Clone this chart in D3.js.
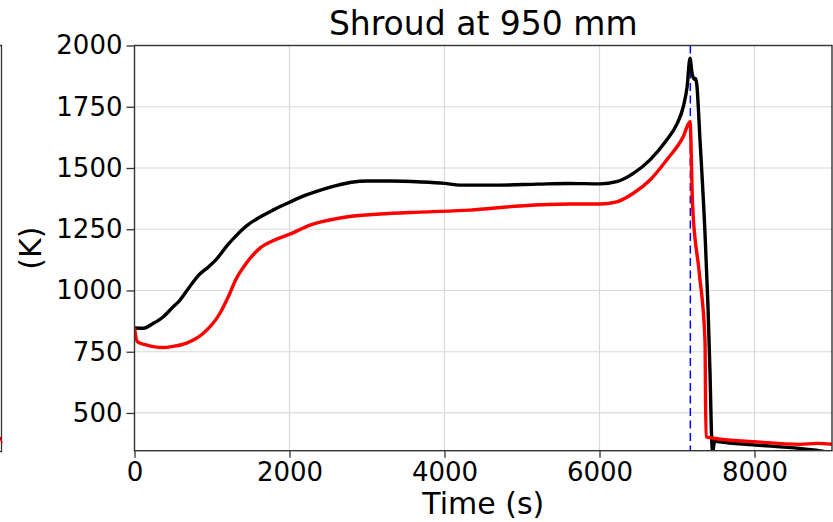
<!DOCTYPE html>
<html>
<head>
<meta charset="utf-8">
<script src="https://cdn.jsdelivr.net/npm/d3@7/dist/d3.min.js"></script>
<style>
  html, body { margin: 0; padding: 0; background: #fff; }
  svg { display: block; font-family: "DejaVu Sans", sans-serif; }
</style>
</head>
<body>
<svg id="chart" width="833" height="522"></svg>
<script>
// ---- data (time in s, temperature in K) ----
const title = "Shroud at 950 mm";
const xLabel = "Time (s)";
const yLabel = "(K)";
const xTicks = [0, 2000, 4000, 6000, 8000];
const yTicks = [500, 750, 1000, 1250, 1500, 1750, 2000];
const markerTime = 7172;

const blackTime = [0, 114, 243, 372, 501, 587, 700, 820, 950, 1050, 1200, 1300, 1450, 1620, 1800, 2000, 2200, 2400, 2600, 2800, 3000, 3300, 3700, 4000, 4200, 4700, 5200, 5600, 6006, 6222, 6437, 6652, 6867, 7000, 7081, 7130, 7168, 7195, 7225, 7240, 7254, 7297, 7361, 7400, 7426, 7448, 7462, 7475, 7490, 7550, 7985, 8585, 8850, 9000];
const blackTemp = [847, 846, 866, 893, 934, 961, 1010, 1060, 1095, 1125, 1185, 1220, 1265, 1300, 1330, 1360, 1388, 1410, 1428, 1442, 1447, 1447, 1443, 1437, 1430, 1430, 1434, 1437, 1435, 1444, 1478, 1533, 1614, 1680, 1750, 1830, 1948, 1885, 1862, 1866, 1845, 1614, 1235, 933, 663, 390, 340, 370, 385, 382, 370, 355, 345, 338];

const redTime = [0, 15, 40, 150, 355, 500, 673, 888, 1103, 1190, 1232, 1300, 1426, 1619, 1800, 2006, 2265, 2652, 3168, 3684, 4329, 4974, 5619, 6006, 6222, 6437, 6652, 6867, 7081, 7168, 7202, 7288, 7361, 7374, 7469, 7985, 8587, 8800, 9000];
const redTemp = [848, 815, 790, 778, 767, 772, 785, 825, 907, 961, 990, 1040, 1104, 1173, 1205, 1230, 1267, 1296, 1312, 1320, 1328, 1345, 1353, 1353, 1362, 1397, 1451, 1533, 1628, 1689, 1342, 1070, 798, 403, 397, 383, 372, 376, 372];

// ---- layout ----
const svg = d3.select("#chart");
const mL = 134.5, mR = 832, mT = 45.5, mB = 450.7;
const x = d3.scaleLinear().domain([0, 9000]).range([mL, mR]);
const y = d3.scaleLinear().domain([346, 2000]).range([mB, mT]);

// neighbour-panel fragment at far left
svg.append("path").attr("d", `M0,${mT} H1.5 V${mB + 1} H0`)
  .attr("fill", "none").attr("stroke", "#333").attr("stroke-width", 1.3);
svg.append("line").attr("x1", 0).attr("x2", 2).attr("y1", 437).attr("y2", 443)
  .attr("stroke", "#c00").attr("stroke-width", 1.5);

// grid
const grid = svg.append("g").attr("stroke", "#d9d9d9").attr("stroke-width", 1.2);
xTicks.filter(d => d > 0).forEach(d => grid.append("line")
  .attr("x1", x(d)).attr("x2", x(d)).attr("y1", mT).attr("y2", mB));
yTicks.filter(d => d < 2000).forEach(d => grid.append("line")
  .attr("x1", mL).attr("x2", mR).attr("y1", y(d)).attr("y2", y(d)));

// clip
svg.append("clipPath").attr("id", "clip").append("rect")
  .attr("x", mL).attr("y", mT).attr("width", mR - mL).attr("height", mB - mT);

const plot = svg.append("g").attr("clip-path", "url(#clip)");

// marker line
plot.append("line").attr("x1", x(markerTime)).attr("x2", x(markerTime))
  .attr("y1", mT).attr("y2", mB)
  .attr("stroke", "#0000ff").attr("stroke-width", 1.5).attr("stroke-dasharray", "8,4.5");

const line = d3.line().x(d => x(d[0])).y(d => y(d[1])).curve(d3.curveMonotoneX);
const blackData = blackTime.map((t, i) => [t, blackTemp[i]]);
const redData = redTime.map((t, i) => [t, redTemp[i]]);

plot.append("path").datum(blackData).attr("d", line)
  .attr("fill", "none").attr("stroke", "#000").attr("stroke-width", 3.4).attr("stroke-linejoin", "round");
plot.append("path").datum(redData).attr("d", line)
  .attr("fill", "none").attr("stroke", "#ff0000").attr("stroke-width", 3.4).attr("stroke-linejoin", "round");

// axes
const xAxis = d3.axisBottom(x).tickValues(xTicks).tickFormat(d3.format("d")).tickSize(7).tickPadding(5);
const yAxis = d3.axisLeft(y).tickValues(yTicks).tickFormat(d3.format("d")).tickSize(8).tickPadding(4);

const gx = svg.append("g").attr("transform", `translate(0,${mB})`).call(xAxis);
const gy = svg.append("g").attr("transform", `translate(${mL},0)`).call(yAxis);
[gx, gy].forEach(g => {
  g.select(".domain").remove();
  g.selectAll(".tick line").attr("stroke", "#333").attr("stroke-width", 1.3);
  g.selectAll(".tick text").attr("fill", "#000").style("font-size", "26px")
    .style("font-family", "'DejaVu Sans', sans-serif");
});

// frame
svg.append("rect").attr("x", mL).attr("y", mT).attr("width", mR - mL).attr("height", mB - mT)
  .attr("fill", "none").attr("stroke", "#333").attr("stroke-width", 1.4);

// labels
svg.append("text").attr("x", (mL + mR) / 2).attr("y", 35).attr("text-anchor", "middle")
  .style("font-size", "33px").attr("fill", "#000").text(title);
svg.append("text").attr("x", (mL + mR) / 2).attr("y", 514).attr("text-anchor", "middle")
  .style("font-size", "30px").attr("fill", "#000").text(xLabel);
svg.append("text").attr("transform", `translate(41,${(mT + mB) / 2}) rotate(-90)`)
  .attr("text-anchor", "middle").style("font-size", "30px").attr("fill", "#000").text(yLabel);
</script>
</body>
</html>
